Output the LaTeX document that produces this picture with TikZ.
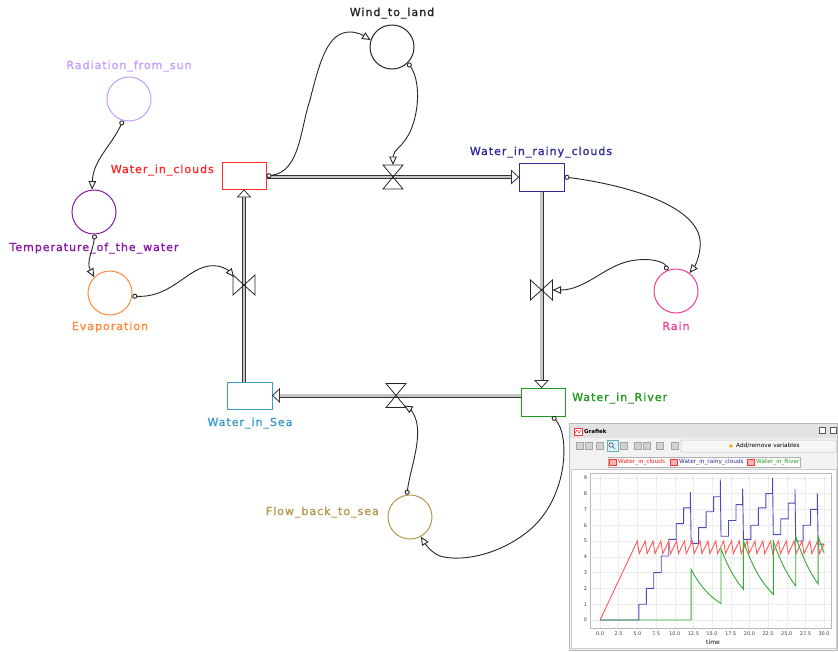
\documentclass[tikz,border=0pt]{standalone}
\usepackage{fontspec}
\setmainfont{DejaVu Sans}
\newfontfamily\lblfont[LetterSpace=9,FakeBold=1.3]{DejaVu Sans}
\usetikzlibrary{arrows.meta,calc}

\definecolor{cloudsred}{HTML}{FF2A2A}
\definecolor{rainynavy}{HTML}{2E2E96}
\definecolor{rivergreen}{HTML}{1F9A1F}
\definecolor{seablue}{HTML}{3A9BD0}
\definecolor{sunlilac}{HTML}{C79CFF}
\definecolor{temppurple}{HTML}{8A1AA8}
\definecolor{evaporange}{HTML}{FF8A3D}
\definecolor{rainpink}{HTML}{F0409A}
\definecolor{flowtan}{HTML}{B8974F}
\definecolor{serred}{HTML}{FF5A5A}
\definecolor{serblue}{HTML}{4A4AB8}
\definecolor{sergreen}{HTML}{38A838}

\tikzset{
  flowtip/.pic={\filldraw[fill=white, draw=black!80, line width=0.8pt] (0,0) -- (-7,-6.5) -- (-7,6.5) -- cycle;},
  valveh/.pic={\draw[valve] (-10,-12) -- (10,-12) -- (-10,12) -- (10,12) -- cycle;},
  valvev/.pic={\draw[valve] (-11,-10) -- (-11,10) -- (11,-10) -- (11,10) -- cycle;}
}

\begin{document}
\begin{tikzpicture}[x=1pt,y=-1pt,
  lab/.style={font=\lblfont\fontsize{11}{13}\selectfont, inner sep=0pt},
  stock/.style={draw, line width=1pt, fill=white, minimum width=44pt, minimum height=27pt, inner sep=0pt},
  aux/.style={circle, draw, line width=1pt, minimum size=44pt, inner sep=0pt},
  link/.style={draw=black!85, line width=0.9pt,
    {Circle[fill=white,length=5pt,width=5pt]}-{Triangle[fill=white,length=8.5pt,width=7.5pt]}},
  pipe/.style={line width=0.9pt, draw=black!80, double=gray!45, double distance=2.2pt, shorten >=7pt},
  valve/.style={draw=black!85, line width=0.8pt},
  ui/.style={font=\fontsize{5.8}{7}\selectfont, inner sep=0pt},
  tick/.style={font=\fontsize{5}{6}\selectfont, inner sep=0pt, text=black!75},
  gridline/.style={draw=gray!25, line width=0.4pt, dash pattern=on 1pt off 1pt},
  tbtn/.style={fill=gray!35, draw=gray!70, line width=0.4pt}
]
\fill[white] (0,0) rectangle (838,651);
\useasboundingbox (0,0) rectangle (838,651);

% ---------- stocks ----------
\node[stock, draw=cloudsred] (clouds) at (244,176) {};
\node[stock, draw=rainynavy, minimum width=45pt, minimum height=28pt] (rainy) at (541.5,177) {};
\node[stock, draw=rivergreen, minimum height=28pt] (river) at (543,402) {};
\node[stock, draw=seablue, minimum width=45pt] (sea) at (249.5,395.5) {};

% ---------- flows ----------
\draw[pipe] (sea.north -| clouds.south) -- (clouds.south);
\pic[rotate=90] at (clouds.south) {flowtip};
\draw[pipe] (clouds.east |- rainy.west) -- (rainy.west);
\pic at (rainy.west) {flowtip};
\draw[pipe] (rainy.south) -- (rainy.south |- river.north);
\pic[rotate=-90] at (rainy.south |- river.north) {flowtip};
\draw[pipe] (river.west |- sea.east) -- (sea.east);
\pic[rotate=180] at (sea.east) {flowtip};

% ---------- valves ----------
\coordinate (vevap) at (244,285);
\coordinate (vwind) at (393,177);
\coordinate (vrain) at (541.5,290);
\coordinate (vback) at (396,395.5);
\pic at (vevap) {valvev};
\pic at (vwind) {valveh};
\pic at (vrain) {valvev};
\pic at (vback) {valveh};
\coordinate (vevapin) at ([shift={(-10,-8)}]vevap);
\coordinate (vwindin) at ([shift={(0,-12)}]vwind);
\coordinate (vrainin) at ([shift={(11,0)}]vrain);
\coordinate (vbackin) at ([shift={(8,10)}]vback);

% ---------- auxiliaries ----------
\node[aux, draw=sunlilac] (sun) at (129,99) {};
\node[aux, draw=temppurple] (temp) at (94,212) {};
\node[aux, draw=evaporange] (evap) at (110,293) {};
\node[aux, draw=black!85] (wind) at (392,47) {};
\node[aux, draw=rainpink] (rain) at (676,291) {};
\node[aux, draw=flowtan] (back) at (410,517) {};

% ---------- labels ----------
\node[lab, text=sunlilac, anchor=base] (sunlab) at (129,69) {Radiation\_from\_sun};
\node[lab, text=temppurple, anchor=base] (templab) at (94,251) {Temperature\_of\_the\_water};
\node[lab, text=evaporange, anchor=base] (evaplab) at (110,330) {Evaporation};
\node[lab, text=cloudsred, anchor=base east] (cloudslab) at (214,173) {Water\_in\_clouds};
\node[lab, text=black!85, anchor=base] (windlab) at (392,16) {Wind\_to\_land};
\node[lab, text=rainynavy, anchor=base] (rainylab) at (541,155) {Water\_in\_rainy\_clouds};
\node[lab, text=rainpink, anchor=base] (rainlab) at (676,330) {Rain};
\node[lab, text=rivergreen, anchor=base west] (riverlab) at (572,401) {Water\_in\_River};
\node[lab, text=seablue, anchor=base] (sealab) at (250,426) {Water\_in\_Sea};
\node[lab, text=flowtan, anchor=base east] (backlab) at (379,515) {Flow\_back\_to\_sea};

% ---------- connectors ----------
\draw[link] (sun.254) .. controls (112,145) and (93,160) .. (temp.95);
\draw[link] (temp.272) .. controls (93,250) and (86,262) .. (evap.135);
\draw[link] (evap.352) .. controls (175,298) and (190,262) .. (217,266)
            .. controls (225,267) and (230,272) .. (vevapin);
\draw[link] (clouds.east) .. controls (300,172) and (300,130) .. (310,100)
            .. controls (320,60) and (328,32) .. (350,32)
            .. controls (358,32) and (364,36) .. (wind.162);
\draw[link] (wind.315) .. controls (420,80) and (420,110) .. (410,132)
            .. controls (402,148) and (393,150) .. (vwindin);
\draw[link] (rainy.east) .. controls (620,184) and (706,205) .. (700,248)
            .. controls (699,258) and (695,266) .. (rain.53);
\draw[link] (rain.114) .. controls (665,262) and (650,257) .. (630,261)
            .. controls (605,266) and (585,290) .. (vrainin);
\draw[link] (river.-57) .. controls (570,435) and (568,495) .. (532,528)
            .. controls (500,556) and (460,562) .. (440,556)
            .. controls (432,553) and (426,545) .. (back.-61);
\draw[link] (back.98) .. controls (410,470) and (422,440) .. (416,420)
            .. controls (414,413) and (410,409) .. (vbackin);

% ---------- chart window ----------
\filldraw[fill=gray!10, draw=gray!55, line width=0.6pt] (569,423) rectangle (837.5,650.5);
\fill[gray!22] (570,424) rectangle (837,438);
\filldraw[fill=white, draw=red!80, line width=0.5pt] (574,428) rectangle (582,435);
\draw[red, line width=0.4pt] (575,433) -- (577,430) -- (579,433) -- (581,430);
\node[ui, font=\fontsize{5.5}{6}\bfseries\selectfont, anchor=west] (wtitle) at (584,431) {Grafiek};
\filldraw[fill=white, draw=gray!70!black, line width=0.5pt] (819,427) rectangle (825,433);
\filldraw[fill=white, draw=gray!70!black, line width=0.5pt] (830,427) rectangle (836,433);

% toolbar
\foreach \bx in {576,585,596,620,634,643,656,671}
  \filldraw[tbtn] (\bx,442) rectangle ++(7,7);
\filldraw[fill=cyan!15, draw=teal!60, line width=0.5pt] (607,440) rectangle (618,451);
\draw[gray!60!black, line width=0.6pt] (611,445) circle (2.2) (612.5,446.5) -- (615,449);
\filldraw[fill=gray!6, draw=gray!50, line width=0.5pt, rounded corners=1pt] (681,440) rectangle (836,452);
\node[text=orange!80!yellow, font=\fontsize{6.5}{7}\selectfont, inner sep=0pt] (star) at (731,446) {★};
\node[ui, anchor=west] (addvars) at (736,446) {Add/remove variables};

% legend
\filldraw[fill=white, draw=gray!60, line width=0.5pt] (608,457) rectangle (800,467);
\filldraw[fill=red!30, draw=red!80, line width=0.4pt] (609,459) rectangle (616,465);
\node[ui, text=red!90, anchor=west] (leg1) at (618,462) {Water\_in\_clouds};
\filldraw[fill=red!30, draw=red!80, line width=0.4pt] (670,459) rectangle (677,465);
\node[ui, text=rainynavy, anchor=west] (leg2) at (679,462) {Water\_in\_rainy\_clouds};
\filldraw[fill=red!30, draw=red!80, line width=0.4pt] (747,459) rectangle (754,465);
\node[ui, text=rivergreen, anchor=west] (leg3) at (756,462) {Water\_in\_River};

% plot panel
\filldraw[fill=white, draw=gray!40, line width=0.5pt] (571,469) rectangle (836,648);
\node[ui, font=\fontsize{6}{7}\selectfont] (timelab) at (713,642) {time};

\begin{scope}[shift={(600,620)}, x=7.47pt, y=15.8pt]
  \foreach \k in {0,...,9} {
    \draw[gridline] (-1.34,\k) -- (30.92,\k);
    \node[tick, anchor=east] (yt\k) at (-1.7,\k) {\k};
  }
  \foreach \t/\s [count=\n] in {0/0.0,2.5/2.5,5/5.0,7.5/7.5,10/10.0,12.5/12.5,15/15.0,17.5/17.5,20/20.0,22.5/22.5,25/25.0,27.5/27.5,30/30.0} {
    \draw[gridline] (\t,-0.5) -- (\t,9.3);
    \draw[gray!60, line width=0.4pt] (\t,-0.5) -- (\t,-0.6);
    \node[tick] (xt\n) at (\t,-0.85) {\s};
  }
  \draw[gray!55, line width=0.5pt] (-1.34,-0.5) rectangle (30.92,9.3);

  % Water_in_rainy_clouds
  \draw[serblue, line width=0.9pt] (0,0) -- (5.2,0) -- (5.2,1) -- (6.2,1) -- (6.2,2) -- (7.2,2) -- (7.2,3)
    -- (8.2,3) -- (8.2,4.05) -- (9.2,4.05) -- (9.2,5.1) -- (10.2,5.1) -- (10.2,6.1) -- (11.2,6.1)
    -- (11.2,7.1) -- (12.1,7.1) -- (12.1,8.1) -- (12.2,4.85) -- (13.2,4.85) -- (13.2,5.85)
    -- (14.2,5.85) -- (14.2,6.85) -- (15.2,6.85) -- (15.2,7.8) -- (16.1,7.8) -- (16.1,8.9)
    -- (16.2,5.3) -- (17.2,5.3) -- (17.2,6.3) -- (18.2,6.3) -- (18.2,7.3) -- (19.1,7.3)
    -- (19.1,8.3) -- (19.2,5.1) -- (20.2,5.1) -- (20.2,6.0) -- (21.2,6.0) -- (21.2,7.1)
    -- (22.2,7.1) -- (22.2,8.0) -- (23.1,8.0) -- (23.1,9.0) -- (23.2,5.4) -- (24.2,5.4)
    -- (24.2,6.4) -- (25.2,6.4) -- (25.2,7.4) -- (26.1,7.4) -- (26.1,8.3) -- (26.2,5.0)
    -- (27.2,5.0) -- (27.2,6.0) -- (28.2,6.0) -- (28.2,7.0) -- (29.1,7.0) -- (29.1,8.0)
    -- (29.2,4.8) -- (30,4.8);

  % Water_in_clouds
  \draw[serred, line width=0.9pt] (0,0) -- (5,5)
    \foreach \i in {0,...,22} { -- ({5+\i*1.05+0.25},4.2) -- ({5+(\i+1)*1.05},5) }
    -- (29.4,4.2) -- (30,4.8);

  % Water_in_River
  \draw[sergreen, line width=0.9pt] (0,0) -- (12.2,0)
    -- plot[domain=12.2:16.2, samples=20] (\x,{3.2*exp(-0.28*(\x-12.2))})
    -- plot[domain=16.2:19.2, samples=16] (\x,{4.5*exp(-0.28*(\x-16.2))})
    -- plot[domain=19.2:23.2, samples=20] (\x,{5.0*exp(-0.28*(\x-19.2))})
    -- plot[domain=23.2:26.2, samples=16] (\x,{5.0*exp(-0.28*(\x-23.2))})
    -- plot[domain=26.2:29.2, samples=16] (\x,{5.3*exp(-0.28*(\x-26.2))})
    -- plot[domain=29.2:30, samples=6] (\x,{5.3*exp(-0.28*(\x-29.2))});
\end{scope}
\end{tikzpicture}
\end{document}
